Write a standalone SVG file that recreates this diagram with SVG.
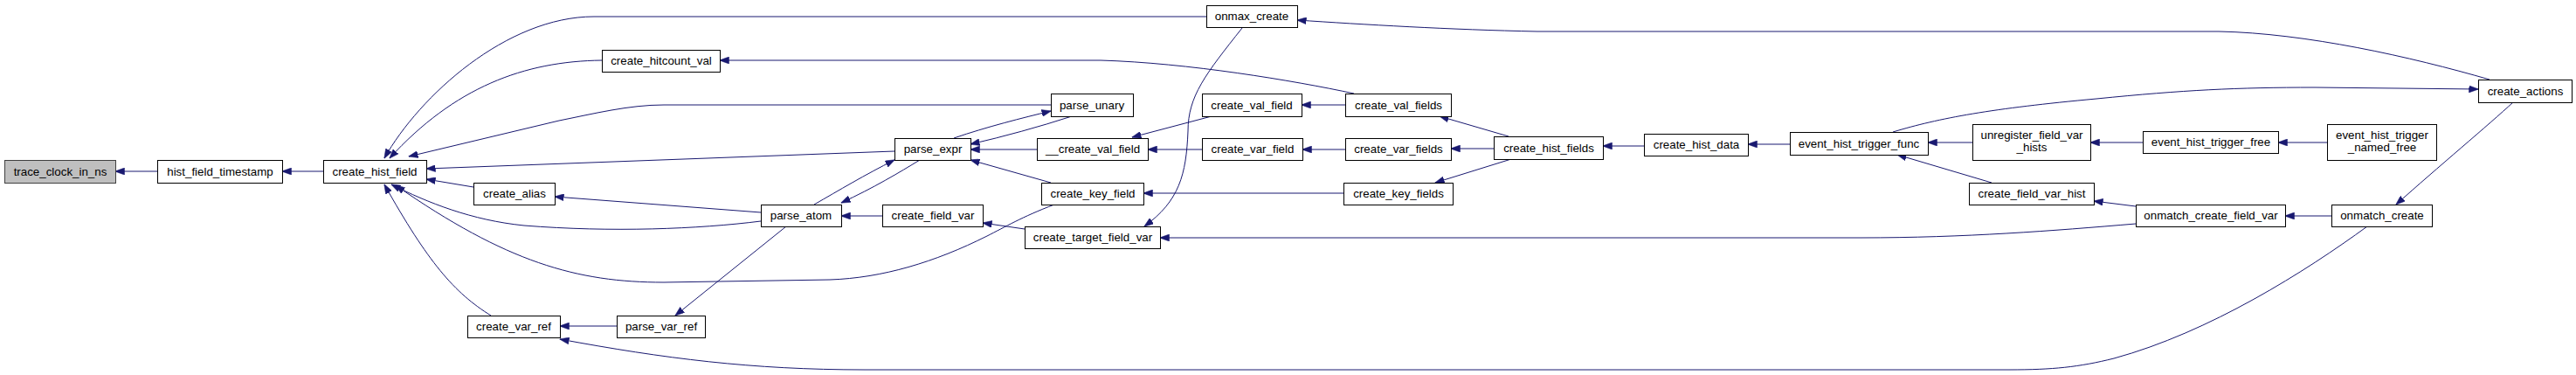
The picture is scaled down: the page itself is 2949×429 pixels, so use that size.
<svg xmlns="http://www.w3.org/2000/svg" width="2949" height="429" viewBox="0 0 2949 429">
<style>
.n rect{fill:#ffffff;stroke:#000000;stroke-width:1}
.n.root rect{fill:#bfbfbf;stroke:#404040}
.n text{font-family:"Liberation Sans",Arial,sans-serif;font-size:13.33px;fill:#000000;text-anchor:middle}
#edges path{fill:none;stroke:#191970;stroke-width:1;marker-end:url(#ah)}
</style>
<defs>
<marker id="ah" markerUnits="userSpaceOnUse" markerWidth="11" markerHeight="8" refX="10.5" refY="4" orient="auto">
<path d="M0,0 L11,4 L0,8 z" fill="#191970" stroke="#191970" stroke-width="0.5"/>
</marker>
</defs>
<rect x="0" y="0" width="2949" height="429" fill="#ffffff"/>
<g id="edges">
<path d="M180,196 L132,196"/>
<path d="M370,196 L323,196"/>
<path d="M1381,19 L680,19 C580,19 480,110 440,181"/>
<path d="M689,69 C600,70 520,100 446,181"/>
<path d="M1203,120 L760,120 C720,120 680,130 640,138 L468,179"/>
<path d="M1024,173 L488,193"/>
<path d="M542,214 L488,205"/>
<path d="M871,253 C800,262 700,266 600,258 C540,252 490,232 448,211"/>
<path d="M1207,234 C1170,248 1150,260 1130,270 C1070,300 1010,318 950,320 L760,323 C660,323 580,300 453,212"/>
<path d="M562,361 C520,335 490,300 440,211"/>
<path d="M871,243 L635,225"/>
<path d="M932,234 C960,218 990,200 1024,183"/>
<path d="M1053,183 C1030,197 1000,215 963,232"/>
<path d="M1010,247 L963,247"/>
<path d="M1173,262 L1125,255"/>
<path d="M1092,158 C1130,145 1170,135 1203,127"/>
<path d="M1227,133 C1190,145 1150,156 1111,165"/>
<path d="M1187,171 L1111,171"/>
<path d="M1203,209 L1111,183"/>
<path d="M1387,133 L1296,157"/>
<path d="M1376,171 L1314,171"/>
<path d="M1538,221 L1309,221"/>
<path d="M1422,32 C1380,85 1360,110 1360,150 C1358,200 1350,230 1310,259"/>
<path d="M2445,256 C2350,264 2250,272 2130,272 L1328,272"/>
<path d="M1540,120 L1490,120"/>
<path d="M1540,171 L1491,171"/>
<path d="M1550,107 C1480,92 1360,72 1260,69 L824,69"/>
<path d="M1727,156 L1648,133"/>
<path d="M1710,170 L1661,170"/>
<path d="M1730,182 L1643,209"/>
<path d="M1882,167 L1835,167"/>
<path d="M2049,165 L2001,165"/>
<path d="M2258,163 L2207,163"/>
<path d="M2280,209 L2172,177"/>
<path d="M2453,163 L2393,163"/>
<path d="M2664,163 L2608,163"/>
<path d="M2167,151 C2220,135 2280,124 2400,113 C2500,103 2560,100 2650,100 L2837,102"/>
<path d="M2850,91 C2760,65 2640,38 2540,36 L1760,36 C1660,34 1560,28 1485,23"/>
<path d="M2877,117 C2850,142 2790,192 2743,234"/>
<path d="M2669,247 L2616,247"/>
<path d="M2445,236 L2397,230"/>
<path d="M2710,259 C2640,310 2530,380 2420,410 C2380,420 2350,423 2300,423 L990,423 C860,423 760,410 641,388"/>
<path d="M706,373 L641,373"/>
<path d="M900,259 L773,361"/>
</g>
<g id="trace_clock_in_ns" class="n root"><rect x="5.5" y="183.5" width="127" height="26"/><text x="69" y="201">trace_clock_in_ns</text></g>
<g id="hist_field_timestamp" class="n"><rect x="180.5" y="183.5" width="143" height="26"/><text x="252" y="201">hist_field_timestamp</text></g>
<g id="create_hist_field" class="n"><rect x="370.5" y="183.5" width="118" height="26"/><text x="429" y="201">create_hist_field</text></g>
<g id="create_hitcount_val" class="n"><rect x="689.5" y="57.5" width="135" height="25"/><text x="757" y="74">create_hitcount_val</text></g>
<g id="create_alias" class="n"><rect x="542.5" y="209.5" width="93" height="25"/><text x="589" y="226">create_alias</text></g>
<g id="parse_atom" class="n"><rect x="871.5" y="234.5" width="92" height="25"/><text x="917" y="251">parse_atom</text></g>
<g id="create_var_ref" class="n"><rect x="535.5" y="361.5" width="106" height="25"/><text x="588" y="378">create_var_ref</text></g>
<g id="parse_var_ref" class="n"><rect x="706.5" y="361.5" width="101" height="25"/><text x="757" y="378">parse_var_ref</text></g>
<g id="onmax_create" class="n"><rect x="1381.5" y="6.5" width="104" height="25"/><text x="1433" y="23">onmax_create</text></g>
<g id="parse_unary" class="n"><rect x="1203.5" y="107.5" width="94" height="26"/><text x="1250" y="125">parse_unary</text></g>
<g id="parse_expr" class="n"><rect x="1024.5" y="158.5" width="87" height="25"/><text x="1068" y="175">parse_expr</text></g>
<g id="__create_val_field" class="n"><rect x="1187.5" y="158.5" width="127" height="25"/><text x="1251" y="175">__create_val_field</text></g>
<g id="create_val_field" class="n"><rect x="1376.5" y="107.5" width="114" height="26"/><text x="1433" y="125">create_val_field</text></g>
<g id="create_var_field" class="n"><rect x="1376.5" y="158.5" width="115" height="25"/><text x="1434" y="175">create_var_field</text></g>
<g id="create_key_field" class="n"><rect x="1192.5" y="209.5" width="117" height="25"/><text x="1251" y="226">create_key_field</text></g>
<g id="create_field_var" class="n"><rect x="1010.5" y="234.5" width="115" height="25"/><text x="1068" y="251">create_field_var</text></g>
<g id="create_target_field_var" class="n"><rect x="1173.5" y="259.5" width="155" height="25"/><text x="1251" y="276">create_target_field_var</text></g>
<g id="create_val_fields" class="n"><rect x="1540.5" y="107.5" width="121" height="26"/><text x="1601" y="125">create_val_fields</text></g>
<g id="create_var_fields" class="n"><rect x="1540.5" y="158.5" width="121" height="25"/><text x="1601" y="175">create_var_fields</text></g>
<g id="create_key_fields" class="n"><rect x="1538.5" y="209.5" width="125" height="25"/><text x="1601" y="226">create_key_fields</text></g>
<g id="create_hist_fields" class="n"><rect x="1710.5" y="156.5" width="125" height="26"/><text x="1773" y="174">create_hist_fields</text></g>
<g id="create_hist_data" class="n"><rect x="1882.5" y="153.5" width="119" height="25"/><text x="1942" y="170">create_hist_data</text></g>
<g id="event_hist_trigger_func" class="n"><rect x="2049.5" y="151.5" width="158" height="26"/><text x="2128" y="169">event_hist_trigger_func</text></g>
<g id="unregister_field_var_hists" class="n"><rect x="2258.5" y="142.5" width="135" height="41"/><text x="2326" y="159">unregister_field_var</text><text x="2326" y="173">_hists</text></g>
<g id="create_field_var_hist" class="n"><rect x="2254.5" y="209.5" width="143" height="25"/><text x="2326" y="226">create_field_var_hist</text></g>
<g id="onmatch_create_field_var" class="n"><rect x="2445.5" y="234.5" width="171" height="25"/><text x="2531" y="251">onmatch_create_field_var</text></g>
<g id="event_hist_trigger_free" class="n"><rect x="2453.5" y="150.5" width="155" height="25"/><text x="2531" y="167">event_hist_trigger_free</text></g>
<g id="event_hist_trigger_named_free" class="n"><rect x="2664.5" y="142.5" width="125" height="41"/><text x="2727" y="159">event_hist_trigger</text><text x="2727" y="173">_named_free</text></g>
<g id="create_actions" class="n"><rect x="2837.5" y="91.5" width="107" height="26"/><text x="2891" y="109">create_actions</text></g>
<g id="onmatch_create" class="n"><rect x="2669.5" y="234.5" width="115" height="25"/><text x="2727" y="251">onmatch_create</text></g>
</svg>
